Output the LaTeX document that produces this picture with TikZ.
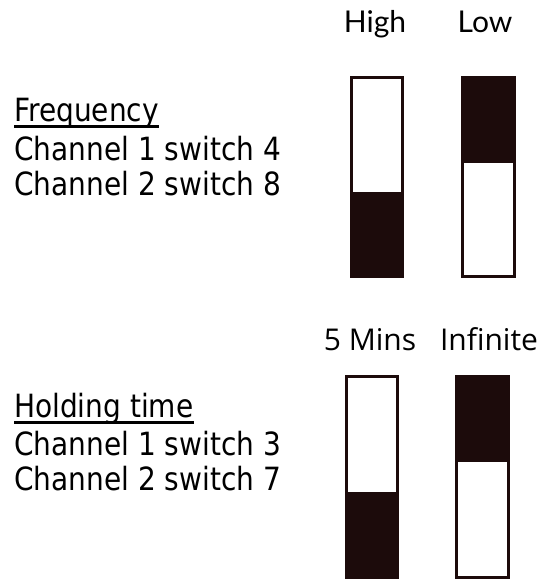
\documentclass[tikz,border=0pt]{standalone}
\usepackage{fontspec}
\setmainfont{DejaVu Sans}
\newfontfamily\bodyfont[FakeStretch=0.875]{DejaVu Sans}
\newfontfamily\latofont{Lato}
\newfontfamily\opensansfont{Open Sans}
\usetikzlibrary{positioning}
\definecolor{swdark}{RGB}{28,11,11}

\begin{document}
\begin{tikzpicture}[x=1pt,y=-1pt,
  every node/.style={inner sep=0pt},
  caption/.style={font=\bodyfont\fontsize{32}{38}\selectfont, anchor=base west},
  setting/.style={font=\latofont\fontsize{30}{36}\selectfont, anchor=base},
  settingb/.style={font=\opensansfont\fontsize{30}{36}\selectfont, anchor=base},
  lever/.style={fill=swdark},
  slot/.style={fill=white, draw=swdark, line width=3pt},
  uline/.style={draw=black, line width=3pt}]
  \useasboundingbox (0,0) rectangle (560,579);

  % Frequency
  \node[caption] (freq) at (14,121) {Frequency};
  \node[caption] (freq1) at (14,160) {Channel 1 switch 4};
  \node[caption] (freq2) at (14,195) {Channel 2 switch 8};
  \draw[uline] ([yshift=-5.5pt]freq.base west) -- ([yshift=-5.5pt]freq.base east);

  \node[setting] (high) at (375,32) {High};
  \node[setting] (low) at (485,32) {Low};

  % High: lever down
  \fill[lever] (350,193) rectangle (404,278);
  \draw[slot] (351.5,77.5) rectangle (402.5,193);
  % Low: lever up
  \fill[lever] (461,76) rectangle (516,161);
  \draw[slot] (462.5,161) rectangle (514.5,276.5);

  % Holding time
  \node[caption] (hold) at (14,417) {Holding time};
  \node[caption] (hold1) at (14,455) {Channel 1 switch 3};
  \node[caption] (hold2) at (14,490) {Channel 2 switch 7};
  \draw[uline] ([yshift=-5.5pt]hold.base west) -- ([yshift=-5.5pt]hold.base east);

  \node[settingb] (mins) at (370,350) {5 Mins};
  \node[settingb] (inf) at (489,350) {Infinite};

  % 5 Mins: lever down
  \fill[lever] (345,493) rectangle (399,579);
  \draw[slot] (346.5,376.5) rectangle (397.5,493);
  % Infinite: lever up
  \fill[lever] (455,375) rectangle (510,460);
  \draw[slot] (456.5,460) rectangle (508.5,577.5);
\end{tikzpicture}
\end{document}
